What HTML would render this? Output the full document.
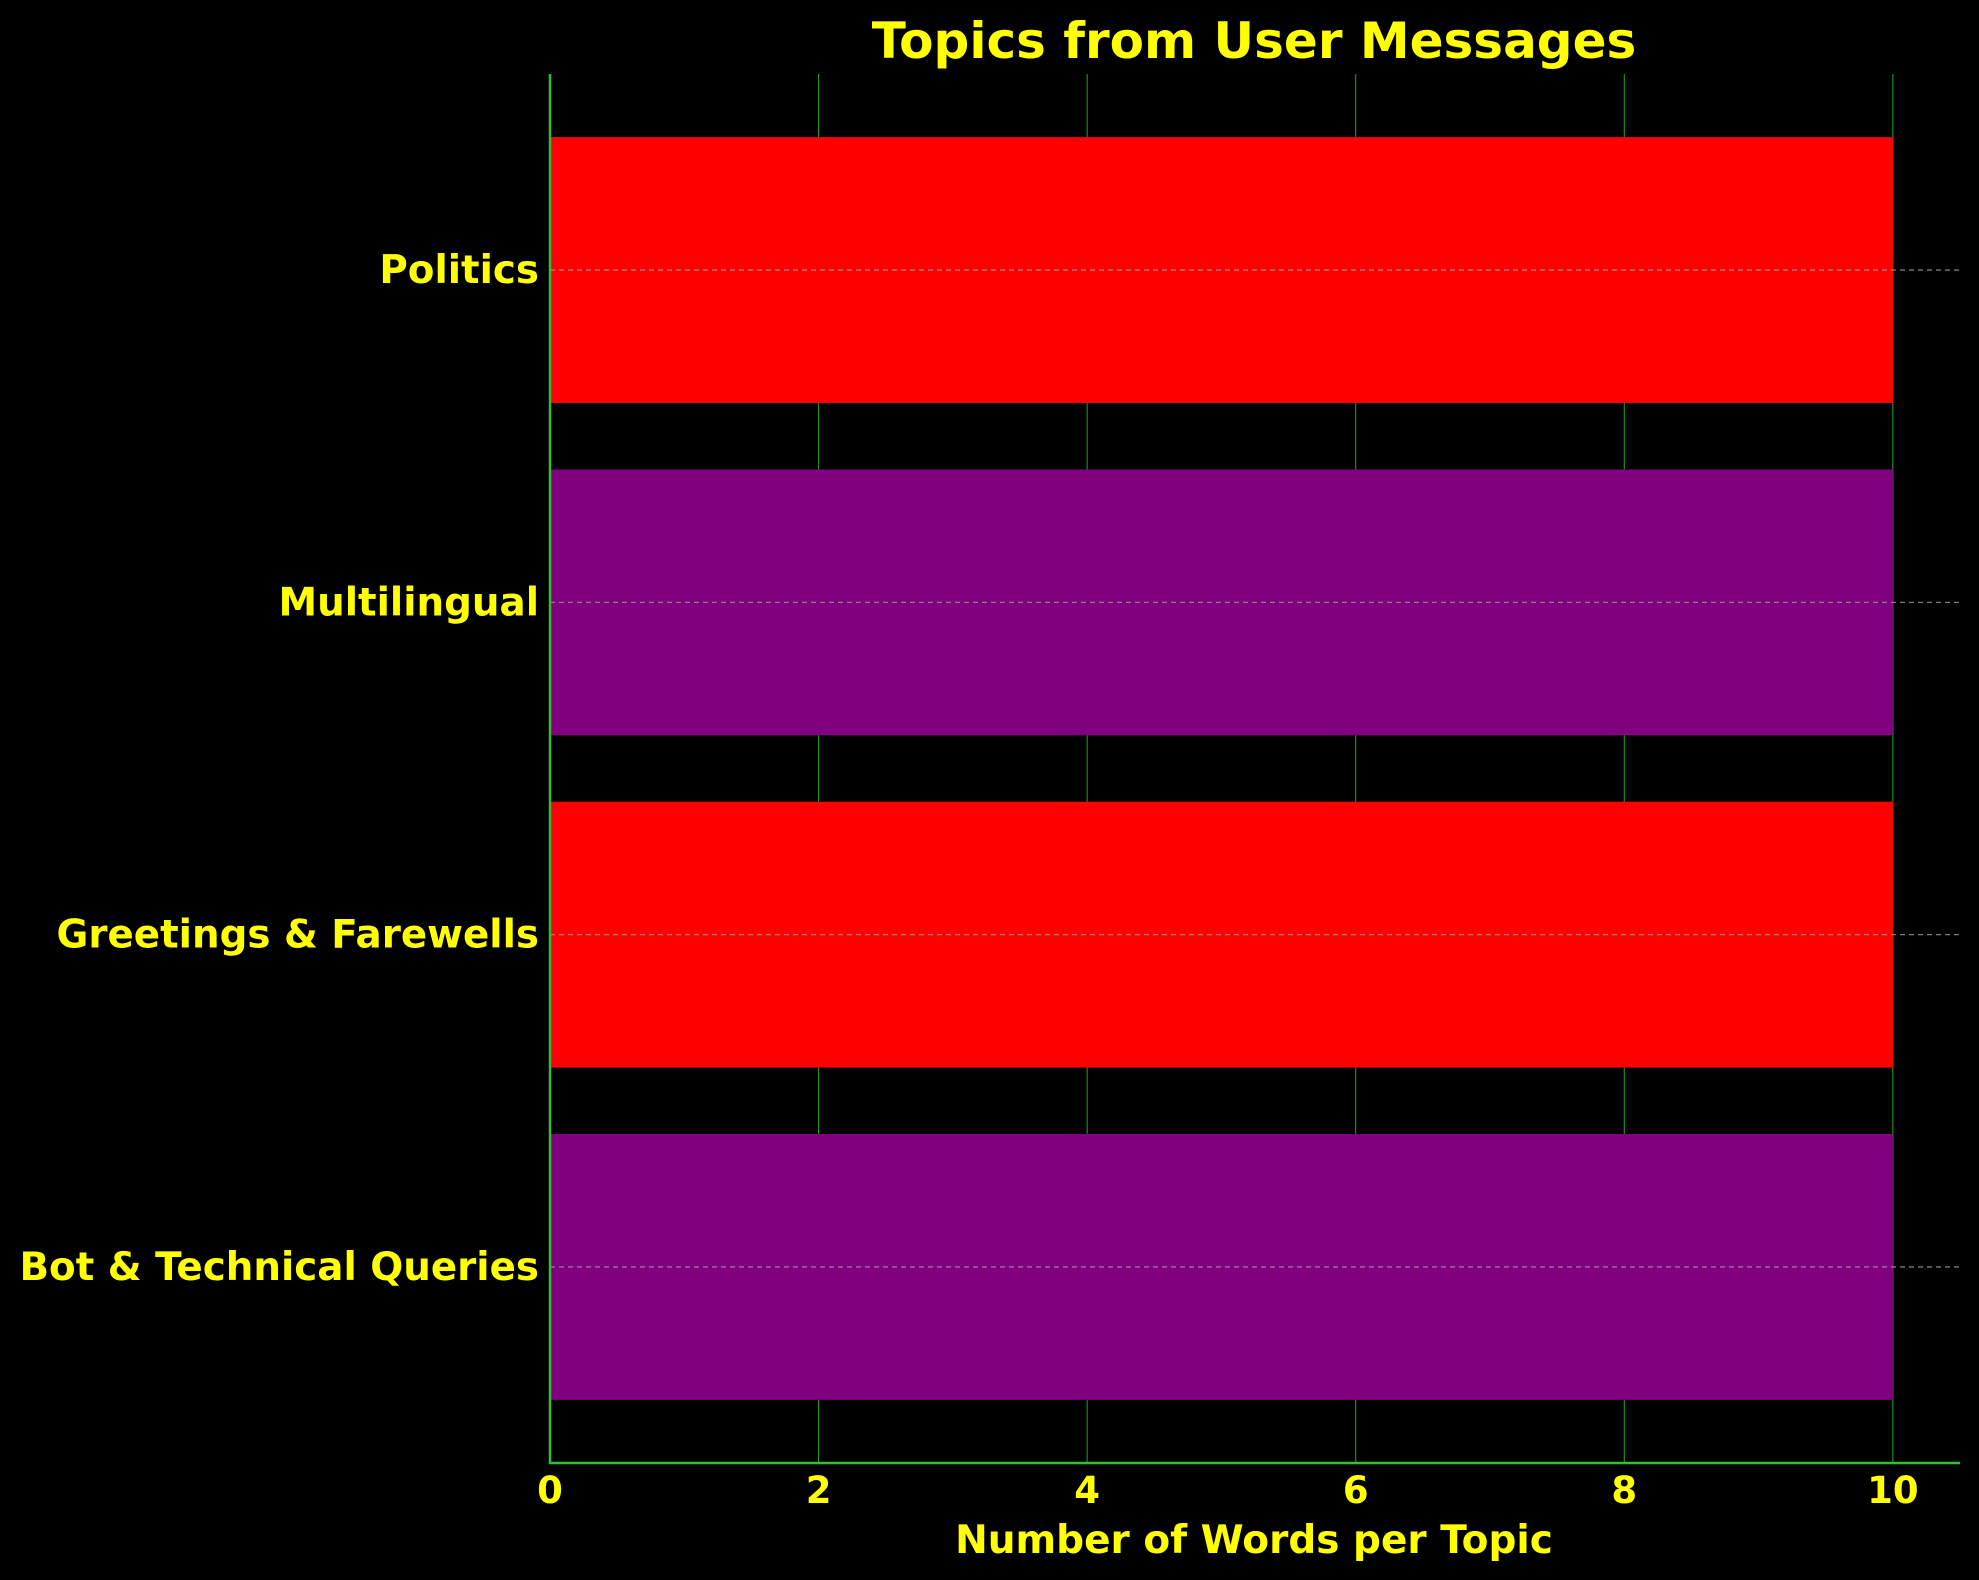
<!DOCTYPE html>
<html><head><meta charset="utf-8"><style>
html,body{margin:0;padding:0;background:#000;}
svg{display:block;font-family:"DejaVu Sans","Liberation Sans",sans-serif;font-weight:bold;}
</style></head><body>
<svg id="chart" width="1979" height="1580" viewBox="0 0 1979 1580" xmlns="http://www.w3.org/2000/svg">
<rect x="0" y="0" width="1979" height="1580" fill="#000"/>
<text x="1254" y="58" fill="#ffff00" font-size="50" text-anchor="middle">Topics from User Messages</text>
<g id="grid"></g>
<g id="bars"></g>
<g id="hgrid"></g>
<g id="axes"></g>
<text x="1254" y="1553" fill="#ffff00" font-size="39" text-anchor="middle">Number of Words per Topic</text>
</svg>
<script>
const categories = ["Bot & Technical Queries", "Greetings & Farewells", "Multilingual", "Politics"];
const values = [10, 10, 10, 10];
const barColors = ["#800080", "#ff0000", "#800080", "#ff0000"];
const xTicks = [0, 2, 4, 6, 8, 10];

const L = 550, R = 1960, T = 74, B = 1463;
const xMin = 0, xMax = 10.5, yMin = -0.59, yMax = 3.59;
const xs = v => L + (v - xMin) / (xMax - xMin) * (R - L);
const ys = v => B - (v - yMin) / (yMax - yMin) * (B - T);
const NS = "http://www.w3.org/2000/svg";
function mk(tag, attrs, parent, text) {
  const e = document.createElementNS(NS, tag);
  for (const k in attrs) e.setAttribute(k, attrs[k]);
  if (text !== undefined) e.textContent = text;
  parent.appendChild(e);
  return e;
}
const grid = document.getElementById("grid");
const bars = document.getElementById("bars");
const hgrid = document.getElementById("hgrid");
const axes = document.getElementById("axes");

xTicks.forEach(t => {
  const g = mk("line", {x1: xs(t), x2: xs(t), y1: T, y2: B, stroke: "#1f9a1f", "stroke-width": 1.1}, grid);
  
  
  const lb = mk("text", {x: xs(t), y: 1503, fill: "#ffff00", "font-size": 37, "text-anchor": "middle"}, axes, String(t));
  
  
});

const bh = 0.8;
categories.forEach((c, i) => {
  const y0 = ys(i + bh / 2), y1 = ys(i - bh / 2);
  const r = mk("rect", {x: xs(0), y: y0, width: xs(values[i]) - xs(0), height: y1 - y0, fill: barColors[i]}, bars);
  
  
  const gl = mk("line", {x1: L, x2: R, y1: ys(i), y2: ys(i), stroke: "#9a9a9a", "stroke-width": 1.3, "stroke-dasharray": "5,4", opacity: 0.8}, hgrid);
  
  
  const tl = mk("text", {x: 539, y: ys(i) + 13, fill: "#ffff00", "font-size": 38.8, "text-anchor": "end"}, axes, c);
  
  
});

const ls = mk("line", {x1: L, x2: L, y1: T, y2: B + 1, stroke: "#2fbf2f", "stroke-width": 2.5}, axes);


const bs = mk("line", {x1: L - 1, x2: R, y1: B, y2: B, stroke: "#2fbf2f", "stroke-width": 2.5}, axes);


</script>
</body></html>
